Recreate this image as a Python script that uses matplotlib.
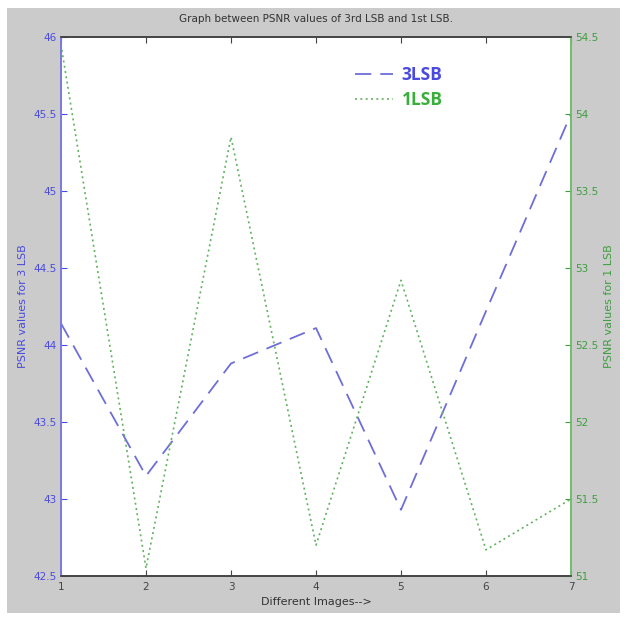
import matplotlib
matplotlib.use("Agg")
import matplotlib.pyplot as plt
from matplotlib.patches import Rectangle

images = [1, 2, 3, 4, 5, 6, 7]
psnr_3lsb = [44.14, 43.15, 43.88, 44.11, 42.93, 44.22, 45.50]
psnr_1lsb = [54.45, 51.05, 53.85, 51.20, 52.92, 51.17, 51.50]
left_ticks = [42.5, 43, 43.5, 44, 44.5, 45, 45.5, 46]
right_ticks = [51, 51.5, 52, 52.5, 53, 53.5, 54, 54.5]

W, H = 627, 618
fig = plt.figure(figsize=(W / 100, H / 100), dpi=100, facecolor="white")
fig.patches.append(Rectangle((7 / W, 1 - 613 / H), 613 / W, 605 / H,
                             transform=fig.transFigure, facecolor="#cbcbcb",
                             edgecolor="none", zorder=-10))

ax = fig.add_axes([61 / W, 1 - 576 / H, 510 / W, 539 / H])
ax2 = ax.twinx()

blue_line = "#6e6ed8"
blue_txt = "#4a4ae0"
green_line = "#62b262"
green_txt = "#3e9e3e"
dark = "#444444"

l1, = ax.plot(images, psnr_3lsb, color=blue_line, lw=1.3, dashes=(9, 5), label="3LSB")
l2, = ax2.plot(images, psnr_1lsb, color=green_line, lw=1.2, dashes=(1.2, 2.0), label="1LSB")

ax.set_xlim(1, 7)
ax.set_ylim(42.5, 46)
ax2.set_ylim(51, 54.5)
ax.set_xticks(images)
ax.set_yticks(left_ticks)
ax.set_yticklabels([f"{v:g}" for v in left_ticks])
ax2.set_yticks(right_ticks)
ax2.set_yticklabels([f"{v:g}" for v in right_ticks])

fs = 7.5
ax.tick_params(axis="x", direction="in", top=True, colors=dark, labelsize=fs, length=4, pad=4)
ax.tick_params(axis="y", direction="in", colors=blue_txt, labelsize=fs, length=4, pad=3)
ax2.tick_params(axis="y", direction="in", colors=green_txt, labelsize=fs, length=4, pad=3)

for a in (ax, ax2):
    a.spines["top"].set_color(dark)
    a.spines["bottom"].set_color(dark)
    a.spines["left"].set_color("#7878e0")
    a.spines["right"].set_color("#6cbf6c")
    for s in a.spines.values():
        s.set_linewidth(1.2)

ax.set_xlabel("Different Images-->", fontsize=8, color="#333333", labelpad=4)
ax.set_ylabel("PSNR values for 3 LSB", fontsize=8, color=blue_txt, labelpad=4)
ax2.set_ylabel("PSNR values for 1 LSB", fontsize=8, color=green_txt, labelpad=4, rotation=90)
ax.set_title("Graph between PSNR values of 3rd LSB and 1st LSB.", fontsize=7.5,
             color="#333333", pad=11)

leg = ax2.legend(handles=[l1, l2], loc="upper left", bbox_to_anchor=(0.545, 0.975),
                 frameon=False, handlelength=2.2, handletextpad=0.5, labelspacing=0.4,
                 prop={"family": "Open Sans", "weight": "bold", "size": 12.5},
                 labelcolor=[blue_txt, "#3aae3a"])

fig.savefig("out.png", dpi=100, facecolor=fig.get_facecolor())
